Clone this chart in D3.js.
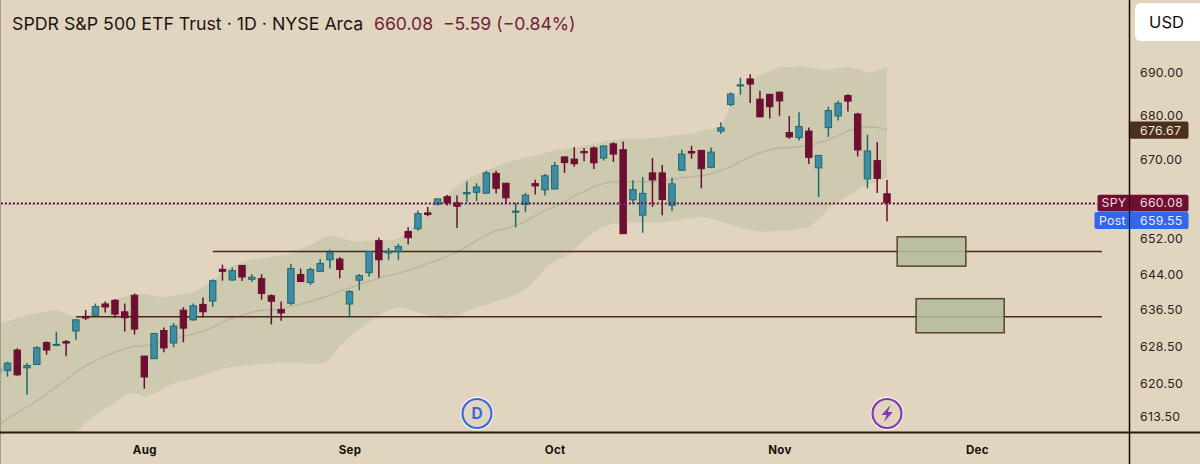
<!DOCTYPE html>
<html><head><meta charset="utf-8">
<script src="https://cdn.jsdelivr.net/npm/d3@7/dist/d3.min.js"></script>
<style>
html,body{margin:0;padding:0;background:#e2d5bf;overflow:hidden}
svg{display:block}
text{font-family:Inter,"Liberation Sans",sans-serif}
</style></head><body>
<svg id="c" width="1200" height="464"></svg>
<script>
// Trading-day index of the first candle (0 = 1 Aug)
const firstIndex = -15;
const opens = [622.8,623.3,627.7,623.9,624.6,629.3,628.7,629.5,631.8,634.95,635.2,637.65,638.45,635.95,639.55,
626.4,625.85,631.9,629.2,636.3,634.2,637.55,638.3,645.25,642.9,646.1,643.05,643.2,639.45,636.45,637.8,644.1,642.35,644.8,647.35,647.5,
637.65,642.85,644.5,651.6,648.85,649.15,653.65,654.25,657.8,659.75,661.45,660.05,662.1,662.45,662.25,666.75,664.5,657.95,659.7,664.4,663,663.2,
670.5,670,671.75,672.55,670.25,673.5,672.15,660.75,657.3,666.85,666.85,659.5,667.45,671.75,672,668.1,676.45,682.6,686.95,688.6,683.85,685,685.5,
676.1,674.95,676.45,668,677.25,679.95,684.7,680.4,665.5,669.65,662.1];
const highs = [624.3,625.2,628.05,624.9,628.5,629.55,631.6,629.85,634.35,636.35,637.75,638.2,638.75,637.75,639.95,
626.45,631.35,632.55,633.5,636.95,637.75,639.05,643.05,646.25,645.6,646.2,644.15,644.15,639.75,638.2,646.5,645.4,645.6,647.45,649.65,647.95,
640.65,644.2,649.25,652.25,649.95,650.9,654.6,658.35,659.15,661,661.85,661.7,664.9,664.5,667.35,667.35,664.55,660.05,662.3,665.3,666.6,669.35,
670.55,672.75,672.55,672.9,673.15,673.9,674.05,665.15,665.9,670.25,668.65,665.75,672.15,673.05,672.1,672.65,678.5,685.45,688.9,689.7,685.85,685,685.6,
679.95,680.8,677.25,670.95,682.1,683.5,685,680.7,675.6,673.95,665.25];
const lows = [622.2,622,622.2,618.2,624.5,626.7,628.5,626.35,629.9,634.15,635.05,635.8,634.65,631.7,631,
619.45,625.8,627.2,628.3,629.35,634,634.7,637,642.75,642.7,642.7,642.45,638.6,633.2,634,637.4,642.45,641.8,644.65,645.45,643.25,
634.85,640.65,643.65,643.4,647.35,647.35,650.75,653.8,657.05,659.5,659.45,654.4,660.2,660.5,662.2,662.2,659.9,654.55,657.95,661.95,661.7,663.15,
666.85,668.25,669.5,667.75,669.65,669.35,653.05,659.9,653.35,659.15,657.3,658.25,667.35,670.1,663.35,667.9,675.85,682.2,684.9,682.95,679.65,679.35,680,
674.65,674.3,668.9,661.4,675.1,678.9,681,670.6,663.35,662.3,655.85];
const closes = [623.8,624.9,622.4,624.4,628.2,627.7,628.9,629.2,634.2,634.6,637.1,637,635.45,634.65,632.2,
621.95,631.25,628.15,632.85,632.4,637.25,635.95,642.75,644.8,644.95,643.55,643.5,639.95,638.25,635.7,645.4,642.55,645.2,646.55,648.9,645.2,
640.35,643.85,649.15,647.35,649.25,650.3,652.25,657.65,657.45,660.95,660.1,659.3,662.4,663.65,666.85,663.35,661.2,658.2,661.8,663.9,666.2,668.5,
669.2,668.95,671.45,669.15,673,671.15,653.15,663.05,662.2,665.25,660.8,664.35,671.15,671.4,667.8,671.6,677.2,685.05,687.2,687.4,679.75,682.1,683.45,
675.1,677.5,670.4,670.85,681.2,682.9,683.4,672.1,671.85,665.6,660.08];
const bandUpper = [633.3,633.9,634.6,635.2,635.65,636.1,636.3,635.65,634.6,634.8,636.95,638.05,638.7,639.35,639.8,
639.8,639.35,639.1,639.55,639.8,640.2,641.3,642.6,644.8,645.9,646.8,647.45,647.65,648.1,648.3,648.75,649.85,650.75,651.85,652.75,652.3,
651.65,651.4,651.65,651.65,651.65,652.1,653.65,655.85,658.35,660.6,661.95,663.75,665.55,666.45,667.35,668.25,669.2,669.85,670.3,670.75,671.45,672.15,
672.4,672.6,673.05,673.5,674,674.45,674.65,674.65,674.65,674.9,674.9,675.35,675.6,675.85,676.5,676.95,677.4,682.5,686,688.1,689.55,690.5,691.4,
691.4,691.65,691.4,690.95,690.7,691.2,691.4,690.95,690,690.45,691.4];
const bandLower = [598,599.5,601,602.5,604,605.5,607,608.5,610.2,612.3,614,615.25,616.5,618.05,618.6,
617.75,618.4,619.65,620.5,621.1,621.55,622.2,623,623.65,624.1,624.3,624.5,624.75,624.75,624.95,624.95,624.95,624.75,624.75,625.55,628.55,
630.5,632.2,633.7,635.2,636.3,636.95,636.5,635.85,635.2,634.6,634.15,634.8,636.1,636.95,637.4,638.25,638.9,639.55,640.85,642.85,645.45,647,
647.9,649.65,651.65,653.4,654.75,655.45,655.65,655.65,655.65,655.65,655.65,655.85,656.3,656.55,657,656.55,655.85,655.2,654.55,653.85,653.65,653.65,653.85,
653.85,654.1,654.55,656.3,658.8,660.15,661.5,663.05,664.2,664.85,665.75];
const bandBasis = [611.7,613.15,614.4,615.65,616.9,618.4,619.85,621.3,623,624.3,625.35,626.45,627.25,627.9,628.55,
628.55,629,629.4,630.05,630.7,631.1,631.75,632.65,633.7,634.6,635.2,635.85,636.3,636.4,636.5,637.15,637.6,638.25,638.9,639.55,640.45,
641.1,641.95,642.6,643.25,643.9,644.35,645,645.7,646.55,647.2,648.1,649,650.3,651.65,652.75,653.85,654.3,655,655.85,657.2,658.35,659.25,
660.35,661.7,662.6,663.75,664.4,664.85,664.85,664.85,664.85,664.85,665.1,665.3,665.75,666,666.2,666.65,667.35,668.25,669.4,670.55,671.45,672.15,672.6,
672.6,672.85,673.05,673.75,674.45,675.35,676.5,677.15,677.4,677.3,676.75];

const priceTicks = [690,680,670,652,644,636.5,628.5,620.5,613.5];
const monthIndex = [0,21,42,65,85.2];
const monthLabels = ["Aug","Sep","Oct","Nov","Dec"];

const levels = [649.2,634.9];
const levelStart = [7,-7];
const levelEnd = [98,98];
const zoneTop = [652.45,638.8];
const zoneBottom = [645.95,631.4];
const zoneStart = [77.04,78.98];
const zoneEnd = [84.07,87.99];

const lastPrice = 660.08;
const titleText = "SPDR S&P 500 ETF Trust · 1D · NYSE Arca";
const quoteText = "660.08  −5.59 (−0.84%)";

const W=1200,H=464,plotR=1129.5,plotB=432;
const bg="#e2d5bf", upFill="#3f8ca6", upLine="#1f6a6c", dnFill="#6e0f32", dnLine="#6a0f30", ink="#2a1a12";

const x=d3.scaleLinear().domain([0,76]).range([144.3,887]);
const y=d3.scaleLog().domain([690,613.5]).range([73,417]);

const svg=d3.select("#c");
svg.append("rect").attr("width",W).attr("height",H).attr("fill",bg);
svg.append("defs").append("clipPath").attr("id","plot").append("rect").attr("width",plotR).attr("height",plotB);
const g=svg.append("g").attr("clip-path","url(#plot)");

const candles=opens.map((o,i)=>({i:i+firstIndex,o,h:highs[i],l:lows[i],c:closes[i],up:bandUpper[i],lo:bandLower[i],mid:bandBasis[i]}));

g.append("path").datum(candles)
 .attr("d",d3.area().x(d=>x(d.i)).y0(d=>y(d.lo)).y1(d=>y(d.up)))
 .attr("fill","#cdcab0");
g.append("path").datum(candles)
 .attr("d",d3.line().x(d=>x(d.i)).y(d=>y(d.mid)))
 .attr("fill","none").attr("stroke","#b9b5a0").attr("stroke-width",1.4);

// support levels and zones
levels.forEach((p,k)=>{
  g.append("line").attr("x1",x(levelStart[k])).attr("x2",x(levelEnd[k])).attr("y1",y(p)).attr("y2",y(p))
   .attr("stroke","#47291a").attr("stroke-width",1.5);
});
zoneTop.forEach((t,k)=>{
  g.append("rect").attr("x",x(zoneStart[k])).attr("width",x(zoneEnd[k])-x(zoneStart[k]))
   .attr("y",y(t)).attr("height",y(zoneBottom[k])-y(t))
   .attr("fill","#b3bc9b").attr("fill-opacity",.88).attr("stroke","#54452f").attr("stroke-width",1.5);
});

// candles
const cg=g.append("g").selectAll("g").data(candles).join("g");
cg.append("line").attr("x1",d=>x(d.i)).attr("x2",d=>x(d.i)).attr("y1",d=>y(d.h)).attr("y2",d=>y(d.l))
  .attr("stroke",d=>d.c>=d.o?upLine:dnLine).attr("stroke-width",1.5);
cg.append("rect").attr("x",d=>x(d.i)-3.2).attr("width",6.4)
  .attr("y",d=>y(Math.max(d.o,d.c))).attr("height",d=>Math.max(.8,Math.abs(y(d.o)-y(d.c))))
  .attr("fill",d=>d.c>=d.o?upFill:dnFill).attr("stroke",d=>d.c>=d.o?upLine:dnLine).attr("stroke-width",1);

// dotted last-price lines
const ly=y(lastPrice)+.6;
svg.append("line").attr("x1",0).attr("x2",1097).attr("y1",ly+1).attr("y2",ly+1)
  .attr("stroke","#5a78d8").attr("stroke-opacity",.55).attr("stroke-width",1.4).attr("stroke-dasharray","2 2");
svg.append("line").attr("x1",1).attr("x2",1097).attr("y1",ly).attr("y2",ly)
  .attr("stroke","#6e0f32").attr("stroke-width",1.6).attr("stroke-dasharray","2 2");

// frame
svg.append("line").attr("x1",.5).attr("x2",.5).attr("y1",0).attr("y2",H).attr("stroke","#a59c8c").attr("stroke-width",1);
svg.append("line").attr("x1",0).attr("x2",W).attr("y1",plotB+.5).attr("y2",plotB+.5).attr("stroke",ink).attr("stroke-width",1.8);
svg.append("line").attr("x1",plotR).attr("x2",plotR).attr("y1",0).attr("y2",H).attr("stroke","#0c0806").attr("stroke-width",1.5);

// axes
const ya=svg.append("g").attr("transform",`translate(${plotR},0)`)
  .call(d3.axisRight(y).tickValues(priceTicks).tickSize(0).tickPadding(10.5).tickFormat(d3.format(".2f")));
ya.select(".domain").remove();
ya.selectAll("text").attr("font-family","Inter").attr("font-size",12.3).attr("letter-spacing",".3").attr("fill","#2a211a");

const xa=svg.append("g").attr("transform",`translate(0,${plotB})`)
  .call(d3.axisBottom(x).tickValues(monthIndex).tickSize(0).tickPadding(13.5).tickFormat((d,i)=>monthLabels[i]));
xa.select(".domain").remove();
xa.selectAll("text").attr("font-family","Inter").attr("font-size",11.5).attr("font-weight",700).attr("letter-spacing",".3").attr("fill","#15100c");

// header
svg.append("text").attr("x",12).attr("y",29.5).attr("font-size",17.75).attr("fill","#1a1512").text(titleText);
svg.append("text").attr("x",374).attr("y",29.5).attr("font-size",17.6).attr("fill","#6e2238").style("white-space","pre").text(quoteText);

// USD button
svg.append("rect").attr("x",1135).attr("y",3).attr("width",70).attr("height",38).attr("rx",6).attr("fill","#fff");
svg.append("text").attr("x",1166.5).attr("y",28).attr("text-anchor","middle").attr("font-size",16.5).attr("fill","#111").text("USD");

// price tags
function tag(x0,x1,y0,y1,fill,r){
  svg.append("path").attr("d",`M${x0+r},${y0}H${x1-r}Q${x1},${y0} ${x1},${y0+r}V${y1-r}Q${x1},${y1} ${x1-r},${y1}H${x0+r}Q${x0},${y1} ${x0},${y1-r}V${y0+r}Q${x0},${y0} ${x0+r},${y0}Z`).attr("fill",fill);
}
function tagText(tx,ty,s,col){
  svg.append("text").attr("x",tx).attr("y",ty).attr("font-size",12.3).attr("letter-spacing",".3").attr("fill",col).text(s);
}
tag(1129,1188.5,121.5,138.8,"#4b2e1d",2);
tagText(1140,134.7,"676.67","#f0e6d8");
tag(1097.5,1188.5,194.8,211.4,"#6e0f32",2);
tagText(1101.5,207.4,"SPY","#f3d9df"); tagText(1140,207.4,"660.08","#f3d9df");
tag(1094.5,1188.5,212,229,"#3366ee",2);
tagText(1099,224.6,"Post","#e4ecff"); tagText(1140,224.6,"659.55","#e4ecff");
svg.append("line").attr("x1",plotR).attr("x2",plotR).attr("y1",121.5).attr("y2",138.8).attr("stroke","#1a1008").attr("stroke-width",1.2);
svg.append("line").attr("x1",plotR).attr("x2",plotR).attr("y1",194.8).attr("y2",229).attr("stroke","#1a1020").attr("stroke-width",1.2);

// event badges
svg.append("circle").attr("cx",477).attr("cy",413.5).attr("r",16.5).attr("fill","#fff");
svg.append("circle").attr("cx",477).attr("cy",413.5).attr("r",14.5).attr("fill",bg).attr("stroke","#3a68dc").attr("stroke-width",2.2);
svg.append("text").attr("x",477).attr("y",419).attr("text-anchor","middle").attr("font-size",15.5).attr("font-weight",700).attr("fill","#3a68dc").text("D");
svg.append("circle").attr("cx",887).attr("cy",413.5).attr("r",16.5).attr("fill","#fff");
svg.append("circle").attr("cx",887).attr("cy",413.5).attr("r",14.5).attr("fill",bg).attr("stroke","#8438b0").attr("stroke-width",2.2);
svg.append("path").attr("transform","translate(887,413.5)").attr("d","M3.5,-8.5L-5.5,1.5H-0.5L-3,8.5L5.8,-1.5H0.8Z").attr("fill","#8438b0");
</script></body></html>
